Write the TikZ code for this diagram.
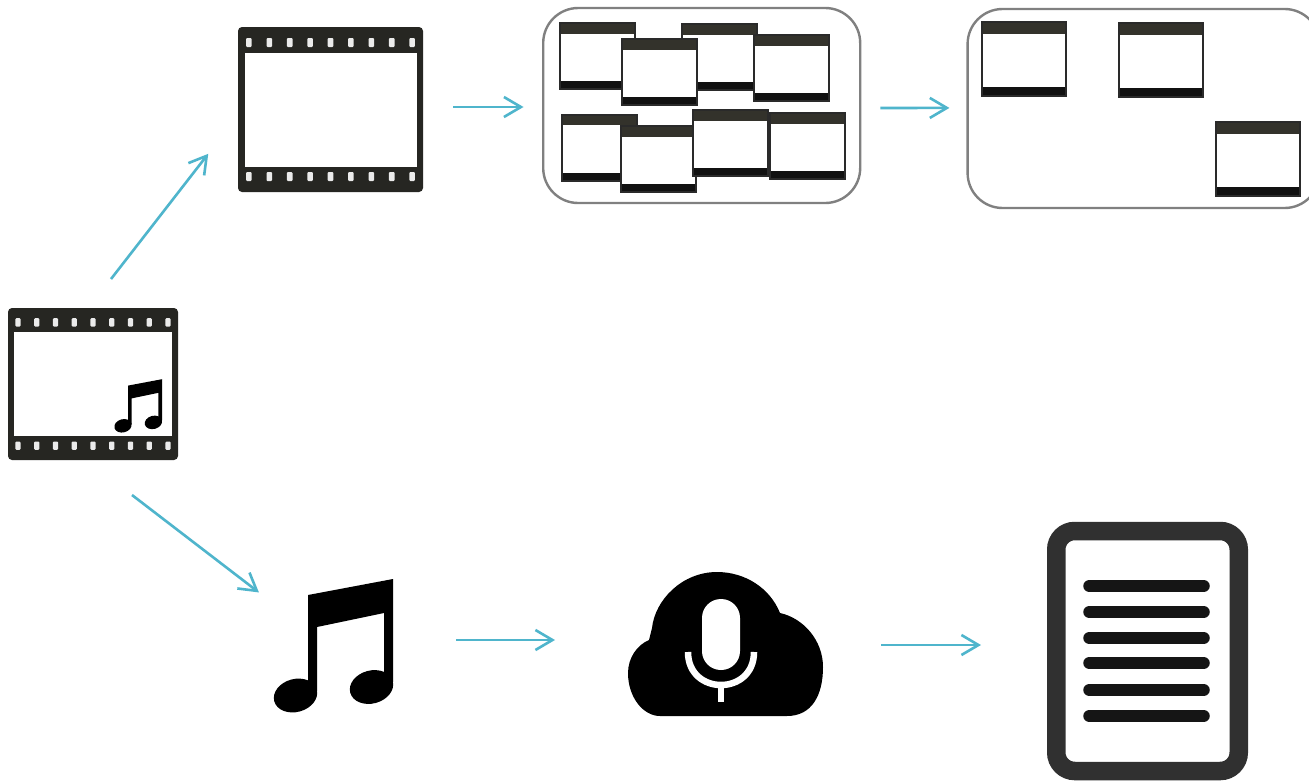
\documentclass[tikz,border=0pt]{standalone}
\usepackage{tikz}
\usetikzlibrary{calc}
\usetikzlibrary{positioning, arrows.meta}
\definecolor{flowcol}{HTML}{4FB5CC}
\definecolor{filmcol}{HTML}{262622}
\definecolor{wintop}{HTML}{33322B}
\definecolor{winedge}{HTML}{2A2A2A}
\definecolor{winbot}{HTML}{111111}
\definecolor{groupcol}{HTML}{808080}
\definecolor{doccol}{HTML}{303030}
\definecolor{linecol}{HTML}{151515}
\tikzset{
    flow/.style={-{Straight Barb[length=17pt,width=20pt]}, draw=flowcol, line width=2.6pt},
    iconbox/.style={inner sep=0pt, outer sep=0pt},
    filmbox/.style={iconbox, fill=filmcol, rounded corners=4pt, minimum width=185pt, minimum height=165pt},
    groupbox/.style={draw=groupcol, line width=2.4pt, rounded corners=35pt, inner sep=0pt},
    winbox/.style={draw=winedge, line width=2pt, fill=white, inner sep=0pt, outer sep=0pt,
        path picture={
            \fill[wintop] (path picture bounding box.north west) rectangle ($(path picture bounding box.north east)!0.16!(path picture bounding box.south east)$);
            \fill[winbot] ($(path picture bounding box.north west)!0.88!(path picture bounding box.south west)$) rectangle (path picture bounding box.south east);
        }},
    shotwin/.style={winbox, minimum width=75pt, minimum height=66pt},
    keywin/.style={winbox, minimum width=84pt, minimum height=74pt},
    filmstrip/.pic={
        \fill[white] (-86,-57) rectangle (86,57);
        \foreach \hx in {-4,...,4} {
            \fill[white!92!black, rounded corners=1pt] (\hx*20.4-2.8,-71.5) rectangle (\hx*20.4+2.8,-62.5);
            \fill[white!92!black, rounded corners=1pt] (\hx*20.4-2.8,62.5) rectangle (\hx*20.4+2.8,71.5);
        }
    },
    notemark/.pic={
        \fill[black] (-25.5,-51) -- (59.5,-67) -- (59.5,36) -- (50.5,36) -- (50.5,-33) -- (-16.5,-19) -- (-16.5,45) -- (-25.5,45) -- cycle;
        \fill[black] (-38,49.5) ellipse [x radius=22, y radius=16.5, rotate=15];
        \fill[black] (38,41) ellipse [x radius=22, y radius=16.5, rotate=15];
    },
    voicecloud/.pic={
        \fill[black] (-65.5,72) -- (61.5,72) .. controls (86.5,72) and (97.5,51) .. (97.5,23)
            .. controls (97.5,-4) and (77.5,-26) .. (54.5,-31)
            .. controls (44.5,-56) and (19.5,-72) .. (-8.5,-72)
            .. controls (-43.5,-72) and (-70.5,-44) .. (-73.5,-16)
            -- (-76.5,-4) .. controls (-88.5,1) and (-97.5,14) .. (-97.5,29)
            .. controls (-97.5,53) and (-82.5,72) .. (-65.5,72) -- cycle;
        \fill[white, rounded corners=18.9pt] (-23.5,-45) rectangle (14.5,26);
        \draw[white, line width=6.5pt] (-37.5,8) .. controls (-37.5,52) and (28.5,52) .. (28.5,8);
        \draw[white, line width=6.5pt] (-4.5,41) -- (-4.5,58);
    }
}

\begin{document}
\begin{tikzpicture}[x=1pt, y=-1pt]
    \useasboundingbox (0,0) rectangle (1309,782);
    \fill[white] (0,0) rectangle (1309,782);

    \node (avfile) [filmbox, minimum width=170pt, minimum height=152pt] at (93,384) {};
    \pic [scale=0.92] at (avfile) {filmstrip};
    \pic [scale=0.4] at (138.2,406) {notemark};

    \node (video) [filmbox] at (330.5,109.5) {};
    \pic at (video) {filmstrip};

    \node (shots) [groupbox, minimum width=317pt, minimum height=195pt, right=119pt of video, yshift=4pt] {};
    \node (keyshots) [groupbox, minimum width=352pt, minimum height=199pt, right=105pt of shots, yshift=-3pt] {};

    \node (shotA) [shotwin] at (597,56) {};
    \node (shotC) [shotwin] at (719.5,57) {};
    \node (shotB) [shotwin] at (659,72) {};
    \node (shotD) [shotwin] at (791.5,68) {};
    \node (shotE) [shotwin] at (599.5,147.5) {};
    \node (shotF) [shotwin] at (658.5,159) {};
    \node (shotG) [shotwin] at (730,143) {};
    \node (shotH) [shotwin] at (807.5,146) {};

    \node (keyA) [keywin] at (1024,59) {};
    \node (keyB) [keywin] at (1160.5,60) {};
    \node (keyC) [keywin] at (1257.5,159) {};

    \node (music) [iconbox, minimum width=119pt, minimum height=136pt] at (333.5,646) {};
    \pic at (music) {notemark};

    \node (voice) [iconbox, minimum width=195pt, minimum height=144pt, right=235pt of music, yshift=2pt] {};
    \pic at (voice) {voicecloud};

    \node (doc) [draw=doccol, fill=white, line width=18.5pt, rounded corners=18.5pt, inner sep=0pt, minimum width=182.5pt, minimum height=240pt, right=224pt of voice, yshift=-7pt] {};
    \foreach \ly in {-65,-39,-13,12,39,65} {
        \draw[linecol, line width=12.5pt, line cap=round] ([xshift=-58pt, yshift=-\ly pt]doc.center) -- ([xshift=56pt, yshift=-\ly pt]doc.center);
    }

    \draw [flow, shorten <=36.7pt, shorten >=48.5pt] ([xshift=-4.5pt]avfile.north) -- ([yshift=-6pt]video.west);
    \draw [flow, shorten <=57.5pt, shorten >=19pt] ([xshift=-6.6pt]avfile.south) -- ([yshift=42pt]music.west);
    \draw [flow, shorten <=30pt, shorten >=18.5pt] ([yshift=2.5pt]video.east) -- ([yshift=-1.5pt]shots.west);
    \draw [flow, shorten <=19pt, shorten >=17pt] ([yshift=-2.5pt]shots.east) -- ([yshift=0.6pt]keyshots.west);
    \draw [flow, shorten <=63pt, shorten >=73pt] ([yshift=6pt]music.east) -- ([yshift=4pt]voice.west);
    \draw [flow, shorten <=58pt, shorten >=66pt] ([yshift=-1pt]voice.east) -- ([yshift=6pt]doc.west);
\end{tikzpicture}
\end{document}
